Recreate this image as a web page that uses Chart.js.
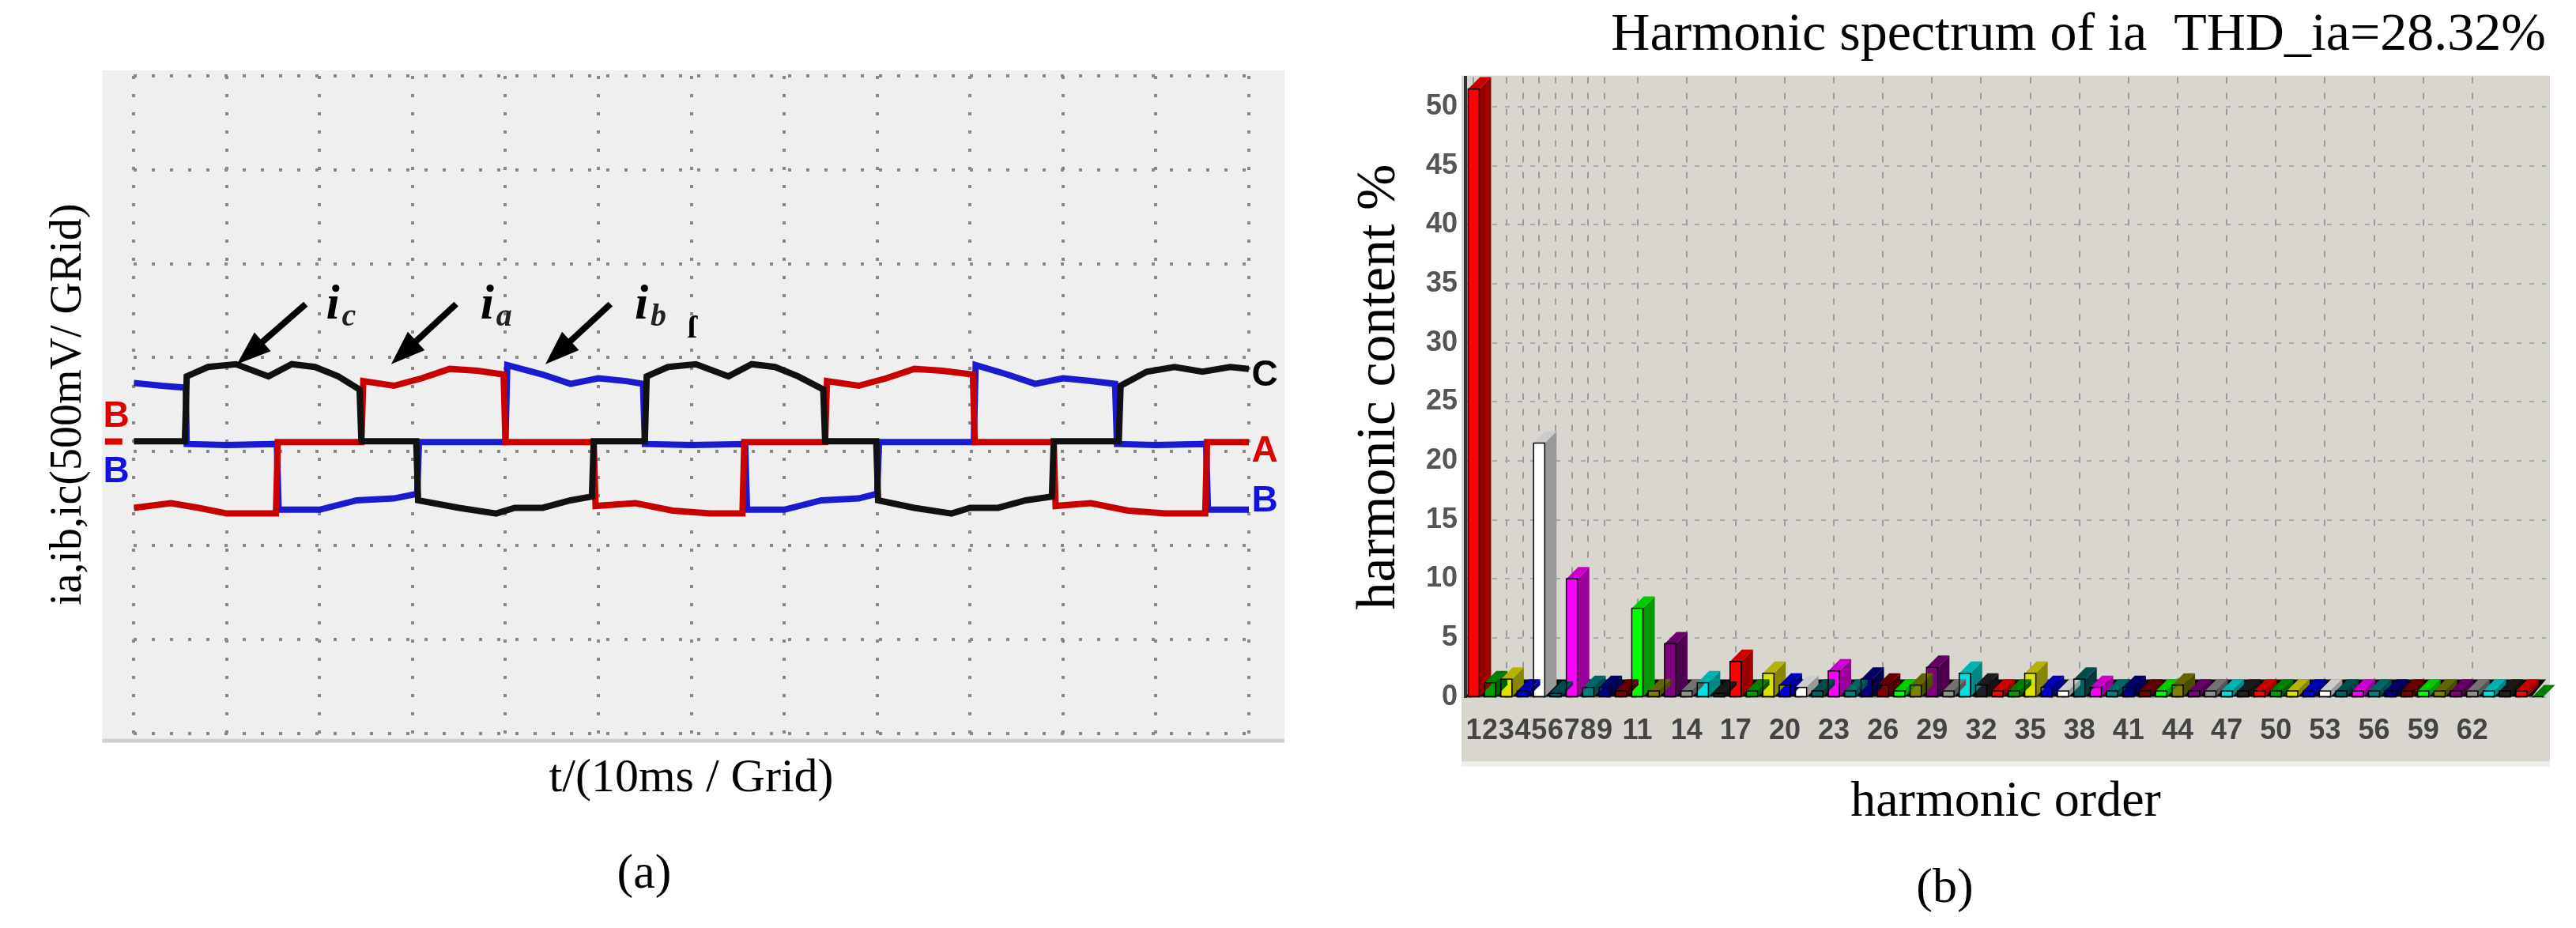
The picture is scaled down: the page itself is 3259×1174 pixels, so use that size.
<!DOCTYPE html>
<html><head><meta charset="utf-8">
<script src="https://cdn.jsdelivr.net/npm/chart.js@4/dist/chart.umd.min.js"></script>
<style>
  body { margin: 0; background: #fff; width: 3259px; height: 1174px; position: relative; overflow: hidden; }
  .box { position: absolute; }
</style></head>
<body>
<div class="box" style="left:0;top:0;width:1660px;height:1174px"><canvas id="wave"></canvas></div>
<div class="box" style="left:1700px;top:0;width:1559px;height:1174px"><canvas id="spec"></canvas></div>
<script>
"use strict";
// waveform traces, x and y in grid divisions
const blueWave = [[0,0.73],[0.3,0.7],[0.56,0.68],[0.57,0.08],[1.0,0.07],[1.54,0.08],[1.56,-0.62],[2.0,-0.62],[2.4,-0.52],[2.8,-0.5],[3.05,-0.45],[3.07,0.1],[3.6,0.1],[4.0,0.1],[4.02,0.92],[4.4,0.82],[4.7,0.72],[5.0,0.78],[5.3,0.75],[5.48,0.72],[5.5,0.08],[6.0,0.07],[6.58,0.08],[6.6,-0.62],[7.0,-0.62],[7.4,-0.52],[7.8,-0.5],[8.0,-0.45],[8.02,0.1],[8.6,0.1],[9.04,0.1],[9.06,0.92],[9.4,0.82],[9.7,0.72],[10.0,0.78],[10.3,0.75],[10.56,0.72],[10.58,0.08],[11.0,0.07],[11.54,0.08],[11.56,-0.62],[12,-0.62]];
const redWave = [[0,-0.6],[0.4,-0.55],[0.7,-0.6],[1.0,-0.66],[1.53,-0.66],[1.55,0.1],[2.0,0.1],[2.45,0.1],[2.47,0.75],[2.8,0.7],[3.1,0.78],[3.4,0.88],[3.7,0.86],[3.98,0.82],[4.0,0.1],[4.5,0.1],[4.95,0.1],[4.97,-0.58],[5.4,-0.55],[5.8,-0.63],[6.2,-0.66],[6.55,-0.66],[6.57,0.1],[7.0,0.1],[7.44,0.1],[7.46,0.75],[7.8,0.7],[8.1,0.78],[8.4,0.88],[8.7,0.86],[9.03,0.82],[9.05,0.1],[9.5,0.1],[9.9,0.1],[9.92,-0.58],[10.3,-0.55],[10.7,-0.63],[11.1,-0.66],[11.53,-0.66],[11.55,0.1],[12,0.1]];
const blackWave = [[0,0.11],[0.55,0.11],[0.57,0.8],[0.8,0.9],[1.1,0.93],[1.45,0.8],[1.7,0.93],[1.95,0.9],[2.2,0.8],[2.43,0.66],[2.45,0.11],[3.04,0.11],[3.06,-0.52],[3.5,-0.6],[3.9,-0.66],[4.1,-0.6],[4.4,-0.6],[4.7,-0.52],[4.93,-0.48],[4.95,0.11],[5.5,0.11],[5.52,0.8],[5.75,0.9],[6.05,0.93],[6.4,0.8],[6.65,0.93],[6.9,0.9],[7.15,0.8],[7.42,0.66],[7.44,0.11],[7.99,0.11],[8.01,-0.52],[8.4,-0.6],[8.8,-0.66],[9.0,-0.6],[9.3,-0.6],[9.6,-0.52],[9.88,-0.48],[9.9,0.11],[10.6,0.11],[10.62,0.7],[10.9,0.85],[11.2,0.9],[11.5,0.85],[11.8,0.9],[12,0.88]];

// harmonic spectrum
const orders = Array.from({ length: 66 }, (_, i) => i + 1);
const content = [51.5,1.2,1.5,0.5,21.5,0.3,10,0.8,0.8,0.5,7.5,0.5,4.5,0.5,1.2,0.3,3,0.5,2,1,0.8,0.5,2.2,0.5,1.5,1,0.5,1,2.5,0.5,2,1,0.5,0.5,2,0.8,0.5,1.5,0.8,0.5,0.8,0.5,0.5,1,0.5,0.5,0.5,0.5,0.5,0.5,0.5,0.5,0.5,0.5,0.5,0.5,0.5,0.5,0.5,0.5,0.5,0.5,0.5,0.5,0.5,0];
const shownOrders = [1,2,3,4,5,6,7,8,9,11,14,17,20,23,26,29,32,35,38,41,44,47,50,53,56,59,62];
const yTicks = [0,5,10,15,20,25,30,35,40,45,50];
const palette = ["#ff0000","#00a000","#e0e000","#0000e0","#ffffff","#006060","#ff00ff","#008080","#000080","#800000","#00ff00","#808000","#800080","#909090","#00e0e0","#202020"];

const SERIF = "'Liberation Serif', 'DejaVu Serif', serif";
const SANS = "'Liberation Sans Narrow', 'Liberation Sans', Arial, sans-serif";

function shade(hex, f) {
  const n = parseInt(hex.slice(1), 16);
  const c = [(n >> 16) & 255, (n >> 8) & 255, n & 255].map((v) => Math.round(v * f));
  return `rgb(${c[0]},${c[1]},${c[2]})`;
}

const waveDeco = {
  id: "waveDeco",
  beforeDraw(c) {
    const a = c.chartArea, g = c.ctx;
    g.save(); g.fillStyle = "#efefef";
    g.fillRect(a.left - 40, a.top - 7, a.width + 85, a.height + 14);
    g.fillStyle = "#cfcfcf"; g.fillRect(a.left - 40, a.bottom + 7, a.width + 85, 5);
    g.restore();
  },
  afterDatasetsDraw(c) {
    const g = c.ctx, X = c.scales.x, Y = c.scales.y;
    const px = (x) => X.getPixelForValue(x), py = (y) => Y.getPixelForValue(y);
    g.save();
    const arrows = [[1.85, 1.57, 1.11, 0.93], [3.47, 1.57, 2.77, 0.93], [5.13, 1.57, 4.43, 0.93]];
    g.strokeStyle = "#000"; g.fillStyle = "#000"; g.lineWidth = 8;
    for (const [x0, y0, x1, y1] of arrows) {
      const ax = px(x0), ay = py(y0), bx = px(x1), by = py(y1);
      const ang = Math.atan2(by - ay, bx - ax);
      g.beginPath(); g.moveTo(ax, ay); g.lineTo(bx - 30 * Math.cos(ang), by - 30 * Math.sin(ang)); g.stroke();
      g.beginPath(); g.moveTo(bx, by);
      g.lineTo(bx - 46 * Math.cos(ang - 0.35), by - 46 * Math.sin(ang - 0.35));
      g.lineTo(bx - 46 * Math.cos(ang + 0.35), by - 46 * Math.sin(ang + 0.35));
      g.closePath(); g.fill();
    }
    g.textBaseline = "middle";
    const subs = [["c", 2.07], ["a", 3.73], ["b", 5.39]];
    for (const [s, x] of subs) {
      g.font = `bold italic 62px ${SERIF}`; g.fillStyle = "#000"; g.fillText("i", px(x), py(1.55));
      g.font = `bold italic 40px ${SERIF}`; g.fillStyle = "#222"; g.fillText(s, px(x) + 20, py(1.43));
    }
    g.font = `bold 40px ${SERIF}`; g.fillStyle = "#000"; g.fillText("ſ", px(5.96), py(1.3));
    g.font = `bold 46px ${SANS}`;
    g.fillStyle = "#000"; g.fillText("C", px(12.03), py(0.81));
    g.fillStyle = "#e00000"; g.fillText("A", px(12.03), py(0.0));
    g.fillStyle = "#1010e0"; g.fillText("B", px(12.03), py(-0.53));
    g.fillStyle = "#e00000"; g.fillText("B", px(-0.33), py(0.37));
    g.fillRect(px(-0.31), py(0.14), 22, 8);
    g.fillStyle = "#1010e0"; g.fillText("B", px(-0.33), py(-0.22));
    g.restore();
  },
};

new Chart(document.getElementById("wave"), {
  type: "line",
  data: { datasets: [
    { data: blackWave.map(([x, y]) => ({ x, y })), borderColor: "#111", borderWidth: 8, pointRadius: 0 },
    { data: redWave.map(([x, y]) => ({ x, y })), borderColor: "#c80000", borderWidth: 8, pointRadius: 0 },
    { data: blueWave.map(([x, y]) => ({ x, y })), borderColor: "#1a1ad0", borderWidth: 8, pointRadius: 0 },
  ] },
  options: {
    responsive: true, maintainAspectRatio: false, animation: false,
    layout: { padding: { left: 50, right: 80, top: 96, bottom: 10 } },
    scales: {
      x: { type: "linear", min: 0, max: 12, ticks: { display: false, stepSize: 1 },
        grid: { color: "#888", lineWidth: 4, drawTicks: false }, border: { display: false, dash: [4, 19] },
        title: { display: true, text: "t/(10ms / Grid)", font: { size: 60, family: SERIF }, color: "#000", padding: { top: 22 } } },
      y: { min: -3, max: 4, ticks: { display: false, stepSize: 1 },
        grid: { color: "#888", lineWidth: 4, drawTicks: false }, border: { display: false, dash: [4, 19] },
        title: { display: true, text: "ia,ib,ic(500mV/ GRid)", font: { size: 56, family: SERIF }, color: "#000", padding: { bottom: 48 } } },
    },
    plugins: { legend: { display: false }, tooltip: { enabled: false },
      subtitle: { display: true, position: "bottom", text: "(a)", font: { size: 62, family: SERIF }, color: "#000", padding: { top: 44, bottom: 20 } } },
  },
  plugins: [waveDeco],
});

const bars3d = {
  id: "bars3d",
  beforeDraw(c) {
    const a = c.chartArea, g = c.ctx;
    g.save(); g.fillStyle = "#d9d6cf";
    g.fillRect(a.left - 5, a.top - 2, a.width + 10, a.height + 84);
    g.fillStyle = "#eeeeea"; g.fillRect(a.left - 5, a.bottom + 82, a.width + 10, 6);
    g.restore();
  },
  beforeDatasetsDraw(c) {
    const g = c.ctx, a = c.chartArea, base = c.scales.y.getPixelForValue(0);
    g.save(); g.fillStyle = "#0a0a0a";
    g.beginPath(); g.moveTo(a.left, base); g.lineTo(a.left + 18, base - 22); g.lineTo(a.right, base - 22);
    g.lineTo(a.right - 18, base); g.closePath(); g.fill();
    g.restore();
  },
  afterDatasetsDraw(c) {
    const g = c.ctx, meta = c.getDatasetMeta(0), Y = c.scales.y;
    const base = Y.getPixelForValue(0), d = 15;
    g.save();
    meta.data.forEach((bar, i) => {
      const col = palette[i % palette.length];
      const l = bar.x - bar.width / 2, r = bar.x + bar.width / 2, t = bar.y;
      g.fillStyle = shade(col, 0.6);
      g.beginPath(); g.moveTo(r, t); g.lineTo(r + d, t - d); g.lineTo(r + d, base - d); g.lineTo(r, base); g.closePath(); g.fill();
      g.fillStyle = shade(col, 0.8);
      g.beginPath(); g.moveTo(l, t); g.lineTo(l + d, t - d); g.lineTo(r + d, t - d); g.lineTo(r, t); g.closePath(); g.fill();
      g.strokeStyle = "#000"; g.lineWidth = 1.5;
      g.strokeRect(l, t, bar.width, base - t);
    });
    g.restore();
  },
};

new Chart(document.getElementById("spec"), {
  type: "bar",
  data: { labels: orders, datasets: [{ data: content, backgroundColor: orders.map((_, i) => palette[i % palette.length]),
    barPercentage: 0.68, categoryPercentage: 1 }] },
  options: {
    responsive: true, maintainAspectRatio: false, animation: false,
    layout: { padding: { left: 0, right: 38, top: 0, bottom: 0 } },
    scales: {
      x: { ticks: { autoSkip: false, maxRotation: 0, color: "#444", padding: 22,
          font: { size: 36, family: SANS, weight: "bold" },
          callback: (v, i) => (shownOrders.includes(orders[i]) ? String(orders[i]) : "") },
        grid: { color: (ctx) => (shownOrders.includes(orders[ctx.index]) ? "#9a9a9a" : "transparent"), lineWidth: 2, offset: false, drawTicks: false },
        border: { display: false, dash: [8, 12] },
        title: { display: true, text: "harmonic order", font: { size: 64, family: SERIF }, color: "#000", padding: { top: 8 } } },
      y: { min: 0, max: 52.5,
        afterBuildTicks: (s) => { s.ticks = yTicks.map((v) => ({ value: v })); },
        ticks: { color: "#555", padding: 10, font: { size: 36, family: SANS, weight: "bold" } },
        grid: { color: "#a8a8a8", lineWidth: 2, drawTicks: false }, border: { display: true, color: "#333", width: 4, dash: [6, 10] },
        title: { display: true, text: "harmonic content %", font: { size: 70, family: SERIF }, color: "#000", padding: { bottom: 6 } } },
    },
    plugins: { legend: { display: false }, tooltip: { enabled: false },
      title: { display: true, text: "Harmonic spectrum of ia  THD_ia=28.32%", font: { size: 68, family: SERIF, weight: "normal" }, color: "#000", align: "end", padding: { top: 4, bottom: 12 } },
      subtitle: { display: true, position: "bottom", text: "(b)", font: { size: 62, family: SERIF }, color: "#000", padding: { top: 30, bottom: 12 } } },
  },
  plugins: [bars3d],
});
</script>
</body></html>
